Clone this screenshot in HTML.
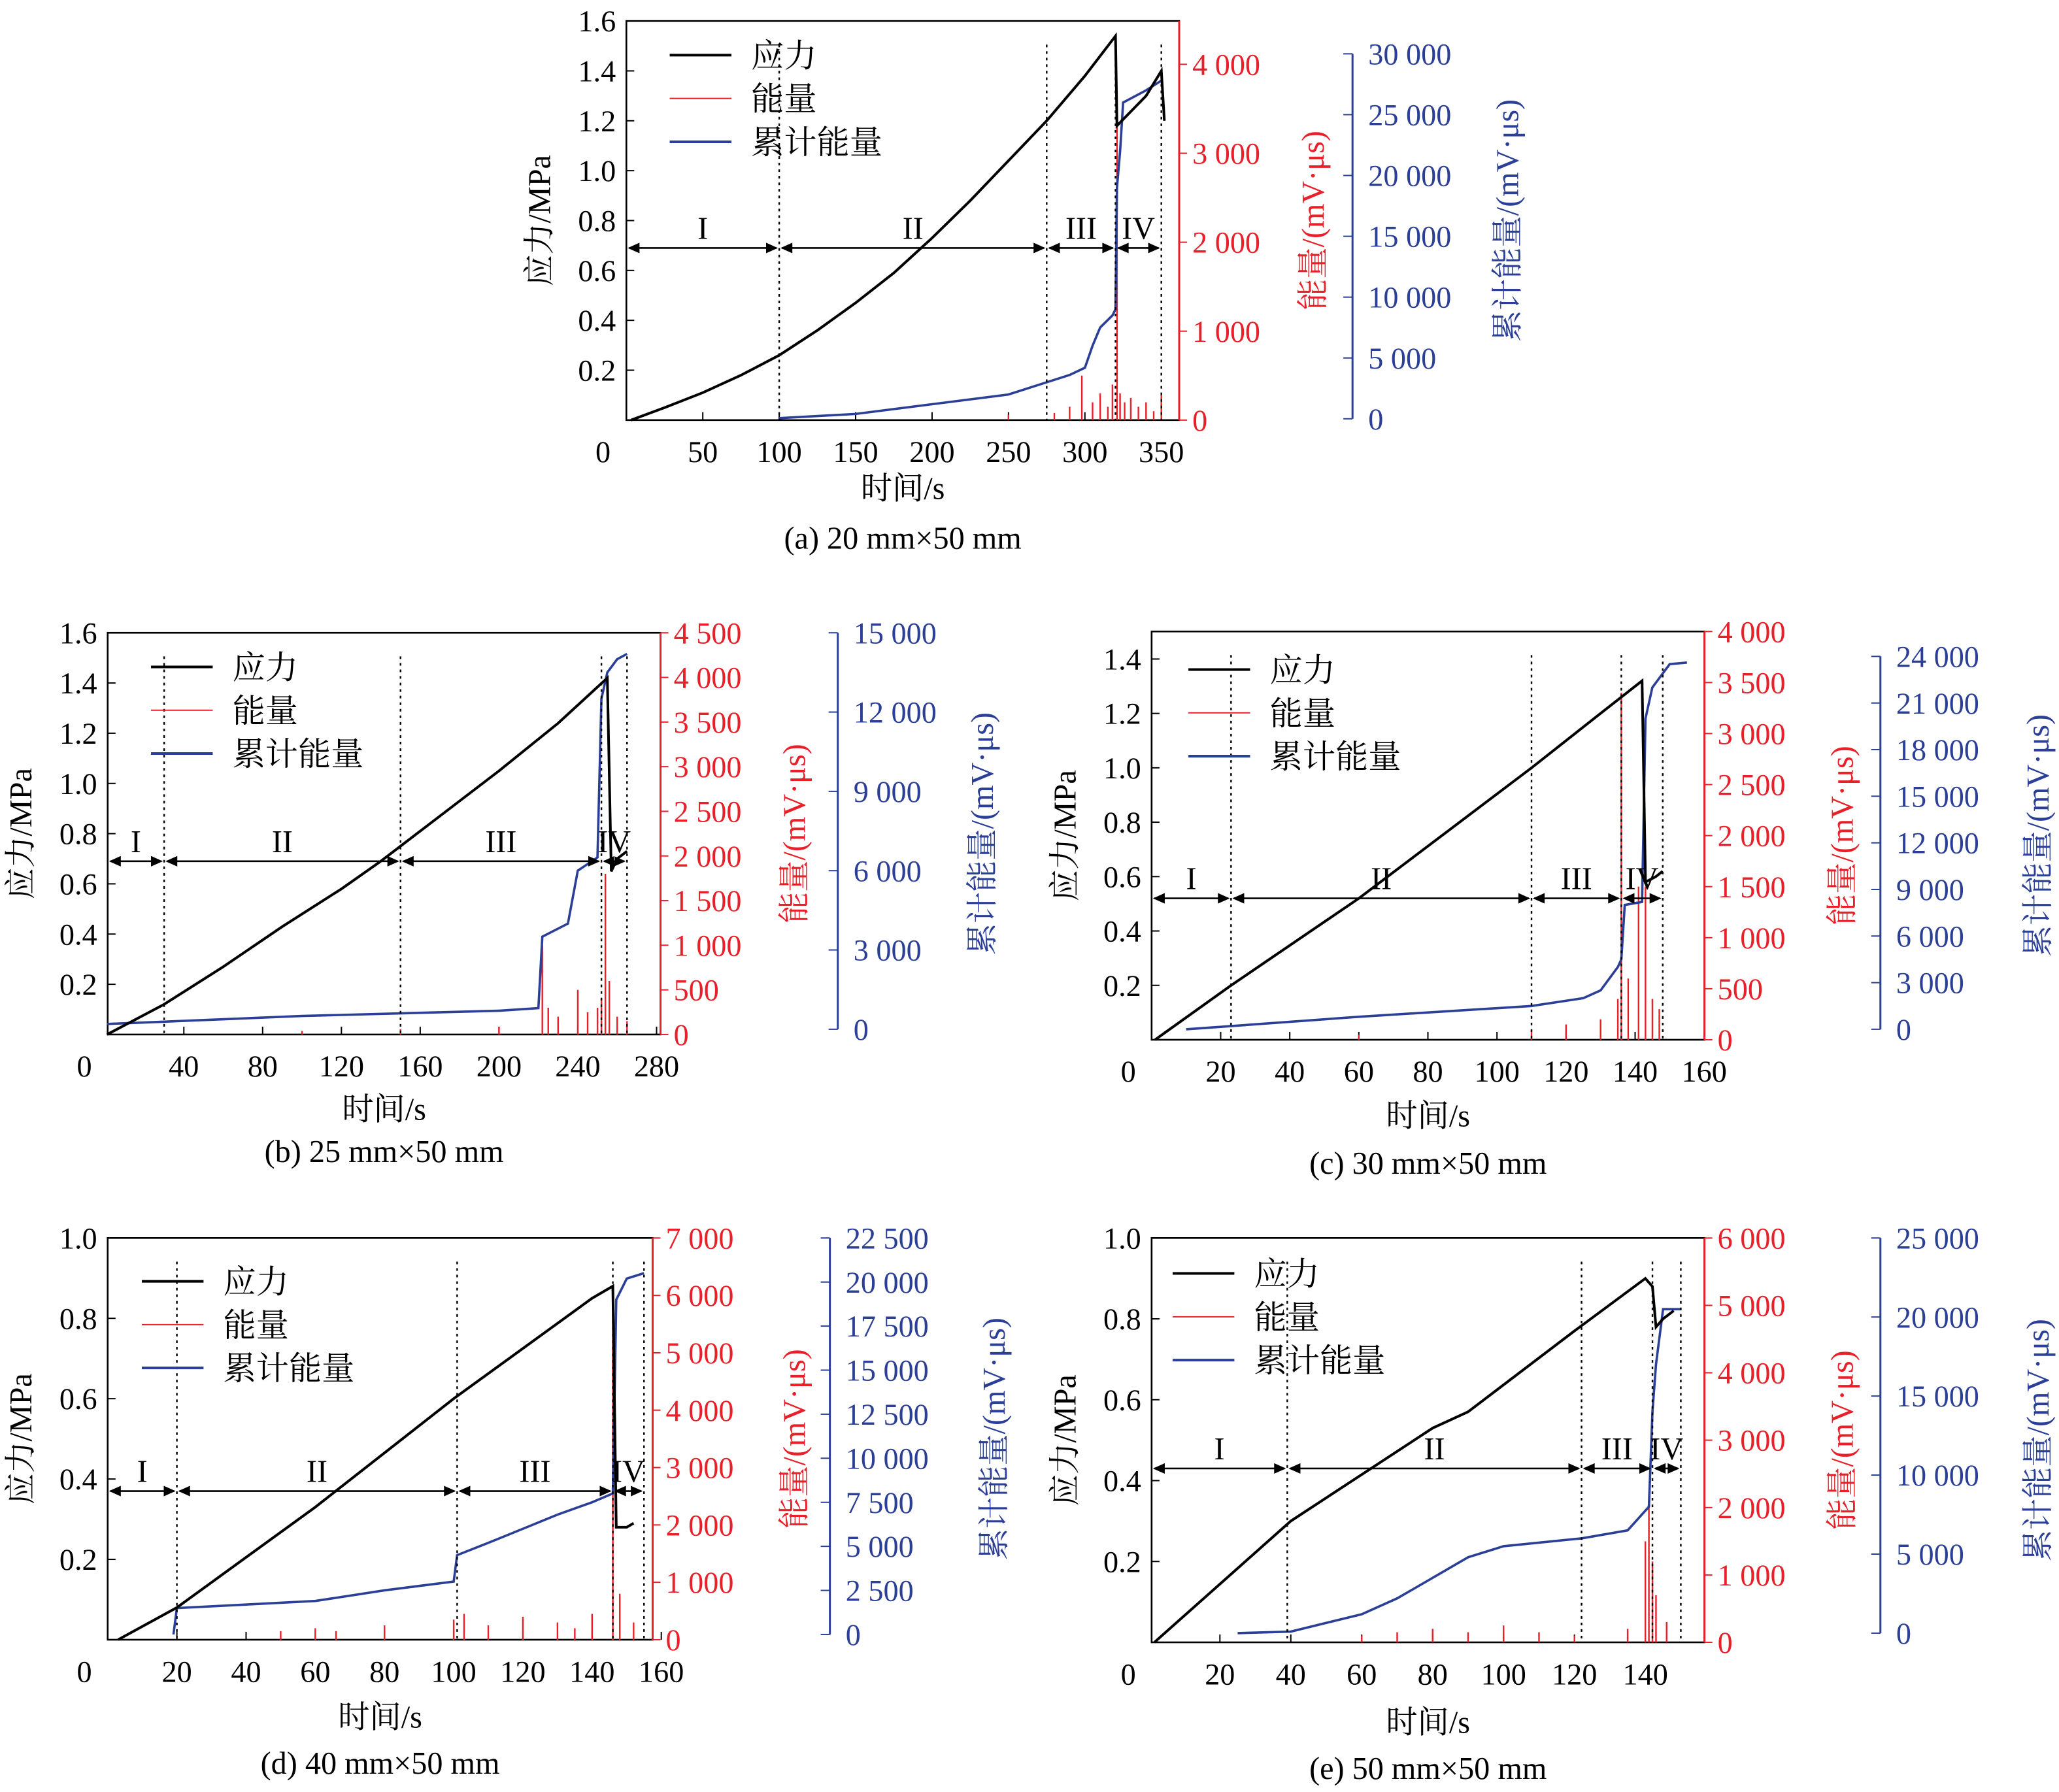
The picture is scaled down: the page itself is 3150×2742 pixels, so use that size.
<!DOCTYPE html>
<html><head><meta charset="utf-8"><style>
html,body{margin:0;padding:0;background:#fff}
svg{display:block}
text{font-family:"Liberation Serif","Noto Serif CJK SC",serif}
</style></head><body>
<svg id="c" xmlns="http://www.w3.org/2000/svg" width="3150" height="2742" viewBox="0 0 1568 1365" preserveAspectRatio="none"></svg>
<script>
// ---- data ----
const aStressT=[3,25,50,75,100,125,150,175,200,225,250,275,300,320,321,340,350,352];
const aStressV=[0,0.05,0.11,0.18,0.26,0.36,0.47,0.59,0.73,0.88,1.04,1.2,1.38,1.54,1.18,1.3,1.4,1.2];
const aCumT=[100,150,200,250,275,290,300,305,310,318,320,321,323,325,340,350];
const aCumV=[50,400,1200,2000,3000,3600,4200,6000,7500,8500,9000,19000,22000,26000,27000,27800];
const aEnT=[250,280,290,298,305,310,315,318,321,323,326,330,335,340,345,350];
const aEnV=[60,80,150,500,200,300,150,400,3700,300,200,250,150,200,100,300];

const bStressT=[1,30,60,90,120,140,170,200,230,255,257,260,265];
const bStressV=[0,0.12,0.27,0.43,0.58,0.69,0.87,1.05,1.24,1.42,0.65,0.7,0.73];
const bCumT=[1,50,100,150,200,220,222,235,240,250,252,255,260,265];
const bCumV=[200,350,500,600,700,800,3500,4000,6000,6500,12500,13500,14000,14200];
const bEnT=[100,150,200,222,225,230,240,245,250,252,254,256,260,265];
const bEnV=[40,60,80,1000,300,200,500,250,300,400,1800,600,200,150];

const cStressT=[1,23,60,110,130,142,143,146,148];
const cStressV=[0,0.2,0.52,1.0,1.2,1.32,0.58,0.6,0.62];
const cCumT=[10,23,60,110,125,130,135,136,137,142,143,145,150,155];
const cCumV=[0,200,800,1500,2000,2500,4000,4500,8000,8200,20000,22000,23500,23600];
const cEnT=[60,110,120,130,135,136,138,141,143,145,147];
const cEnV=[50,100,150,200,400,3400,600,1500,1500,400,300];

const dStressT=[3,20,60,100,140,146,147,150,152];
const dStressV=[0,0.08,0.33,0.6,0.85,0.88,0.28,0.28,0.29];
const dCumT=[19,20,40,60,80,100,101,110,120,130,140,146,147,150,155];
const dCumV=[0,1500,1700,1900,2500,3000,4500,5200,6000,6800,7500,8000,19000,20200,20500];
const dEnT=[50,60,66,80,100,103,110,120,130,135,140,146,148,152];
const dEnV=[150,200,150,250,350,450,250,400,300,200,450,6000,800,300];

const eStressT=[1.5,40,80,90,120,140,142,143,145,148];
const eStressV=[0,0.3,0.53,0.57,0.77,0.9,0.88,0.78,0.8,0.82];
const eCumT=[25,40,60,70,80,90,100,122,135,141,142,143,145,150];
const eCumV=[0,100,1200,2200,3500,4800,5500,6000,6500,8000,14000,17000,20500,20500];
const eEnT=[60,70,80,90,100,110,120,135,140,141,142,143,146];
const eEnV=[100,150,200,150,250,150,100,200,1500,2000,1200,700,300];

const panels=[
 {id:'a',x0:477,x1:898,y0:16,y1:320,tmax:(898-477)/58.2*50,smax:1.6,sticks:[0.2,0.4,0.6,0.8,1.0,1.2,1.4,1.6],ticksT:[0,50,100,150,200,250,300,350],
  rmax:4000*(320-16)/(319-48),rticks:[0,1000,2000,3000,4000],rlab:['0','1 000','2 000','3 000','4 000'],
  bx:1030,bmaxY:41,bminY:319,bmax:30000,bticks:[0,5000,10000,15000,20000,25000,30000],blab:['0','5 000','10 000','15 000','20 000','25 000','30 000'],
  st:aStressT,sv:aStressV,ct:aCumT,cv:aCumV,et:aEnT,ev:aEnV,dots:[100,275,320,350],arrowS:0.69,phases:[0,100,275,320,350],
  redLabX:1000,blueLabX:1148,caption:'(a) 20 mm×50 mm',capY:418,timeY:380,legX:510,legY:42},
 {id:'b',x0:82,x1:503,y0:482,y1:788,tmax:421/1.5,tshift:1.33,smax:1.6,sticks:[0.2,0.4,0.6,0.8,1.0,1.2,1.4,1.6],ticksT:[0,40,80,120,160,200,240,280],
  rmax:4500,rticks:[0,500,1000,1500,2000,2500,3000,3500,4000,4500],rlab:['0','500','1 000','1 500','2 000','2 500','3 000','3 500','4 000','4 500'],
  bx:638,bmaxY:482,bminY:784,bmax:15000,bticks:[0,3000,6000,9000,12000,15000],blab:['0','3 000','6 000','9 000','12 000','15 000'],
  st:bStressT,sv:bStressV,ct:bCumT,cv:bCumV,et:bEnT,ev:bEnV,dots:[30,150,252,265],arrowS:0.69,phases:[0,30,150,252,265],
  redLabX:605,blueLabX:748,caption:'(b) 25 mm×50 mm',capY:885,timeY:853,legX:115,legY:508},
 {id:'c',x0:877,x1:1298,y0:481,y1:792,tmax:(1298-877)/52.6*20,smax:1.4*(792-481)/(792-502),sticks:[0.2,0.4,0.6,0.8,1.0,1.2,1.4],ticksT:[0,20,40,60,80,100,120,140,160],
  rmax:4000,rticks:[0,500,1000,1500,2000,2500,3000,3500,4000],rlab:['0','500','1 000','1 500','2 000','2 500','3 000','3 500','4 000'],
  bx:1432,bmaxY:500,bminY:784,bmax:24000,bticks:[0,3000,6000,9000,12000,15000,18000,21000,24000],blab:['0','3 000','6 000','9 000','12 000','15 000','18 000','21 000','24 000'],
  st:cStressT,sv:cStressV,ct:cCumT,cv:cCumV,et:cEnT,ev:cEnV,dots:[23,110,136,148],arrowS:0.52,phases:[0,23,110,136,148],
  redLabX:1403,blueLabX:1552,caption:'(c) 30 mm×50 mm',capY:894,timeY:858,legX:905,legY:510},
 {id:'d',x0:82,x1:497,y0:943,y1:1249,tmax:(497-82)/52.7*20,smax:1.0,sticks:[0.2,0.4,0.6,0.8,1.0],ticksT:[0,20,40,60,80,100,120,140,160],
  rmax:7000,rticks:[0,1000,2000,3000,4000,5000,6000,7000],rlab:['0','1 000','2 000','3 000','4 000','5 000','6 000','7 000'],
  bx:632,bmaxY:943,bminY:1245,bmax:22500,bticks:[0,2500,5000,7500,10000,12500,15000,17500,20000,22500],blab:['0','2 500','5 000','7 500','10 000','12 500','15 000','17 500','20 000','22 500'],
  st:dStressT,sv:dStressV,ct:dCumT,cv:dCumV,et:dEnT,ev:dEnV,dots:[20,101,146,155],arrowS:0.37,phases:[0,20,101,146,155],
  redLabX:605,blueLabX:757,caption:'(d) 40 mm×50 mm',capY:1351,timeY:1316,legX:108,legY:976},
 {id:'e',x0:877,x1:1298,y0:943,y1:1251,tmax:421/2.7,tshift:0.74,smax:1.0,sticks:[0.2,0.4,0.6,0.8,1.0],ticksT:[0,20,40,60,80,100,120,140],
  rmax:6000,rticks:[0,1000,2000,3000,4000,5000,6000],rlab:['0','1 000','2 000','3 000','4 000','5 000','6 000'],
  bx:1432,bmaxY:943,bminY:1244,bmax:25000,bticks:[0,5000,10000,15000,20000,25000],blab:['0','5 000','10 000','15 000','20 000','25 000'],
  st:eStressT,sv:eStressV,ct:eCumT,cv:eCumV,et:eEnT,ev:eEnV,dots:[39,122,142,150],arrowS:0.43,phases:[0,39,122,142,150],
  redLabX:1403,blueLabX:1552,caption:'(e) 50 mm×50 mm',capY:1355,timeY:1320,legX:893,legY:970}
];
const svg=document.getElementById('c');
const NS='http://www.w3.org/2000/svg';
function mk(tag,attrs,parent,txt){const e=document.createElementNS(NS,tag);for(const k in attrs)e.setAttribute(k,attrs[k]);if(txt!==undefined)e.textContent=txt;(parent||svg).appendChild(e);return e;}
const RED='#e8202a',BLUE='#2b3f97';
const roman=['I','II','III','IV'];
panels.forEach(p=>{
 const g=mk('g',{});
 
 
 const ts=p.tshift||0;
 const X=t=>p.x0+(t-ts)/p.tmax*(p.x1-p.x0);
 const YS=s=>p.y1-s/p.smax*(p.y1-p.y0);
 const YR=v=>p.y1-v/p.rmax*(p.y1-p.y0);
 const YB=v=>p.bminY-v/p.bmax*(p.bminY-p.bmaxY);
 const fr=mk('rect',{x:p.x0,y:p.y0,width:p.x1-p.x0,height:p.y1-p.y0,fill:'none',stroke:'#000','stroke-width':1.3},g);
 
 
 p.sticks.forEach(s=>{const y=YS(s);mk('line',{x1:p.x0,x2:p.x0+6,y1:y,y2:y,stroke:'#000'},g);
  const t=mk('text',{x:p.x0-8,y:y+8,'font-size':23,'text-anchor':'end'},g,s.toFixed(1));
  });
 const z=mk('text',{x:p.x0-12,y:p.y1+32,'font-size':23,'text-anchor':'end'},g,'0');
 
 p.ticksT.forEach(tv=>{if(tv===0)return;const x=X(tv);mk('line',{x1:x,x2:x,y1:p.y1,y2:p.y1-6,stroke:'#000'},g);
  const t=mk('text',{x:x,y:p.y1+32,'font-size':23,'text-anchor':'middle'},g,String(tv));
  });
 mk('line',{x1:p.x1,x2:p.x1,y1:p.y0,y2:p.y1,stroke:RED,'stroke-width':1.5},g);
 p.rticks.forEach((v,i)=>{const y=YR(v);mk('line',{x1:p.x1,x2:p.x1+6,y1:y,y2:y,stroke:RED},g);
  const t=mk('text',{x:p.x1+10,y:y+8,'font-size':23,fill:RED},g,p.rlab[i]);
  });
 mk('line',{x1:p.bx,x2:p.bx,y1:p.bmaxY,y2:p.bminY,stroke:BLUE,'stroke-width':1.5},g);
 p.bticks.forEach((v,i)=>{const y=YB(v);mk('line',{x1:p.bx-7,x2:p.bx,y1:y,y2:y,stroke:BLUE},g);
  const t=mk('text',{x:p.bx+12,y:y+8,'font-size':23,fill:BLUE},g,p.blab[i]);
  });
 const cy=(p.y0+p.y1)/2;
 const yl=mk('text',{x:0,y:0,'font-size':24,'text-anchor':'middle',transform:`translate(${p.x0-58},${cy}) rotate(-90)`},g,'应力/MPa');
 
 const rl=mk('text',{x:0,y:0,'font-size':24,'text-anchor':'middle',fill:RED,transform:`translate(${p.redLabX+8},${cy}) rotate(-90)`},g,'能量/(mV·μs)');
 
 const bl=mk('text',{x:0,y:0,'font-size':24,'text-anchor':'middle',fill:BLUE,transform:`translate(${p.blueLabX+8},${cy}) rotate(-90)`},g,'累计能量/(mV·μs)');
 
 const xl=mk('text',{x:(p.x0+p.x1)/2,y:p.timeY,'font-size':24,'text-anchor':'middle'},g,'时间/s');
 
 const cap=mk('text',{x:(p.x0+p.x1)/2,y:p.capY,'font-size':24,'text-anchor':'middle'},g,p.caption);
 
 p.et.forEach((t,i)=>{const l=mk('line',{x1:X(t),x2:X(t),y1:p.y1,y2:YR(p.ev[i]),stroke:RED,'stroke-width':1.2},g);
  });
 let d='';p.ct.forEach((t,i)=>{d+=(i?'L':'M')+X(t).toFixed(1)+','+YB(p.cv[i]).toFixed(1);});
 const cl=mk('path',{d:d,fill:'none',stroke:BLUE,'stroke-width':1.8},g);
 
 d='';p.st.forEach((t,i)=>{d+=(i?'L':'M')+X(t).toFixed(1)+','+YS(p.sv[i]).toFixed(1);});
 const sl=mk('path',{d:d,fill:'none',stroke:'#000','stroke-width':2},g);
 
 const ay=YS(p.arrowS);
 p.dots.forEach(t=>{const l=mk('line',{x1:X(t),x2:X(t),y1:p.y0+18,y2:p.y1,stroke:'#000','stroke-width':1.2,'stroke-dasharray':'2,3'},g);
  });
 for(let i=0;i<4;i++){
  const xa=i===0?p.x0:X(p.phases[i]),xb=X(p.phases[i+1]);
  mk('line',{x1:xa+2,x2:xb-2,y1:ay,y2:ay,stroke:'#000','stroke-width':1.3},g);
  mk('path',{d:`M${xa+1},${ay}l9,-4v8z M${xb-1},${ay}l-9,-4v8z`,fill:'#000'},g);
  const t=mk('text',{x:(xa+xb)/2,y:ay-7,'font-size':24,'text-anchor':'middle'},g,roman[i]);
  
 }
 const lg=mk('g',{},g);
 
 [['应力','#000',2],['能量',RED,1],['累计能量',BLUE,2]].forEach((e,i)=>{
  const y=p.legY+i*33;
  mk('line',{x1:p.legX,x2:p.legX+47,y1:y,y2:y,stroke:e[1],'stroke-width':e[2]},lg);
  const t=mk('text',{x:p.legX+62,y:y+9,'font-size':25},lg,e[0]);
  
 });
});
</script>
</body></html>
